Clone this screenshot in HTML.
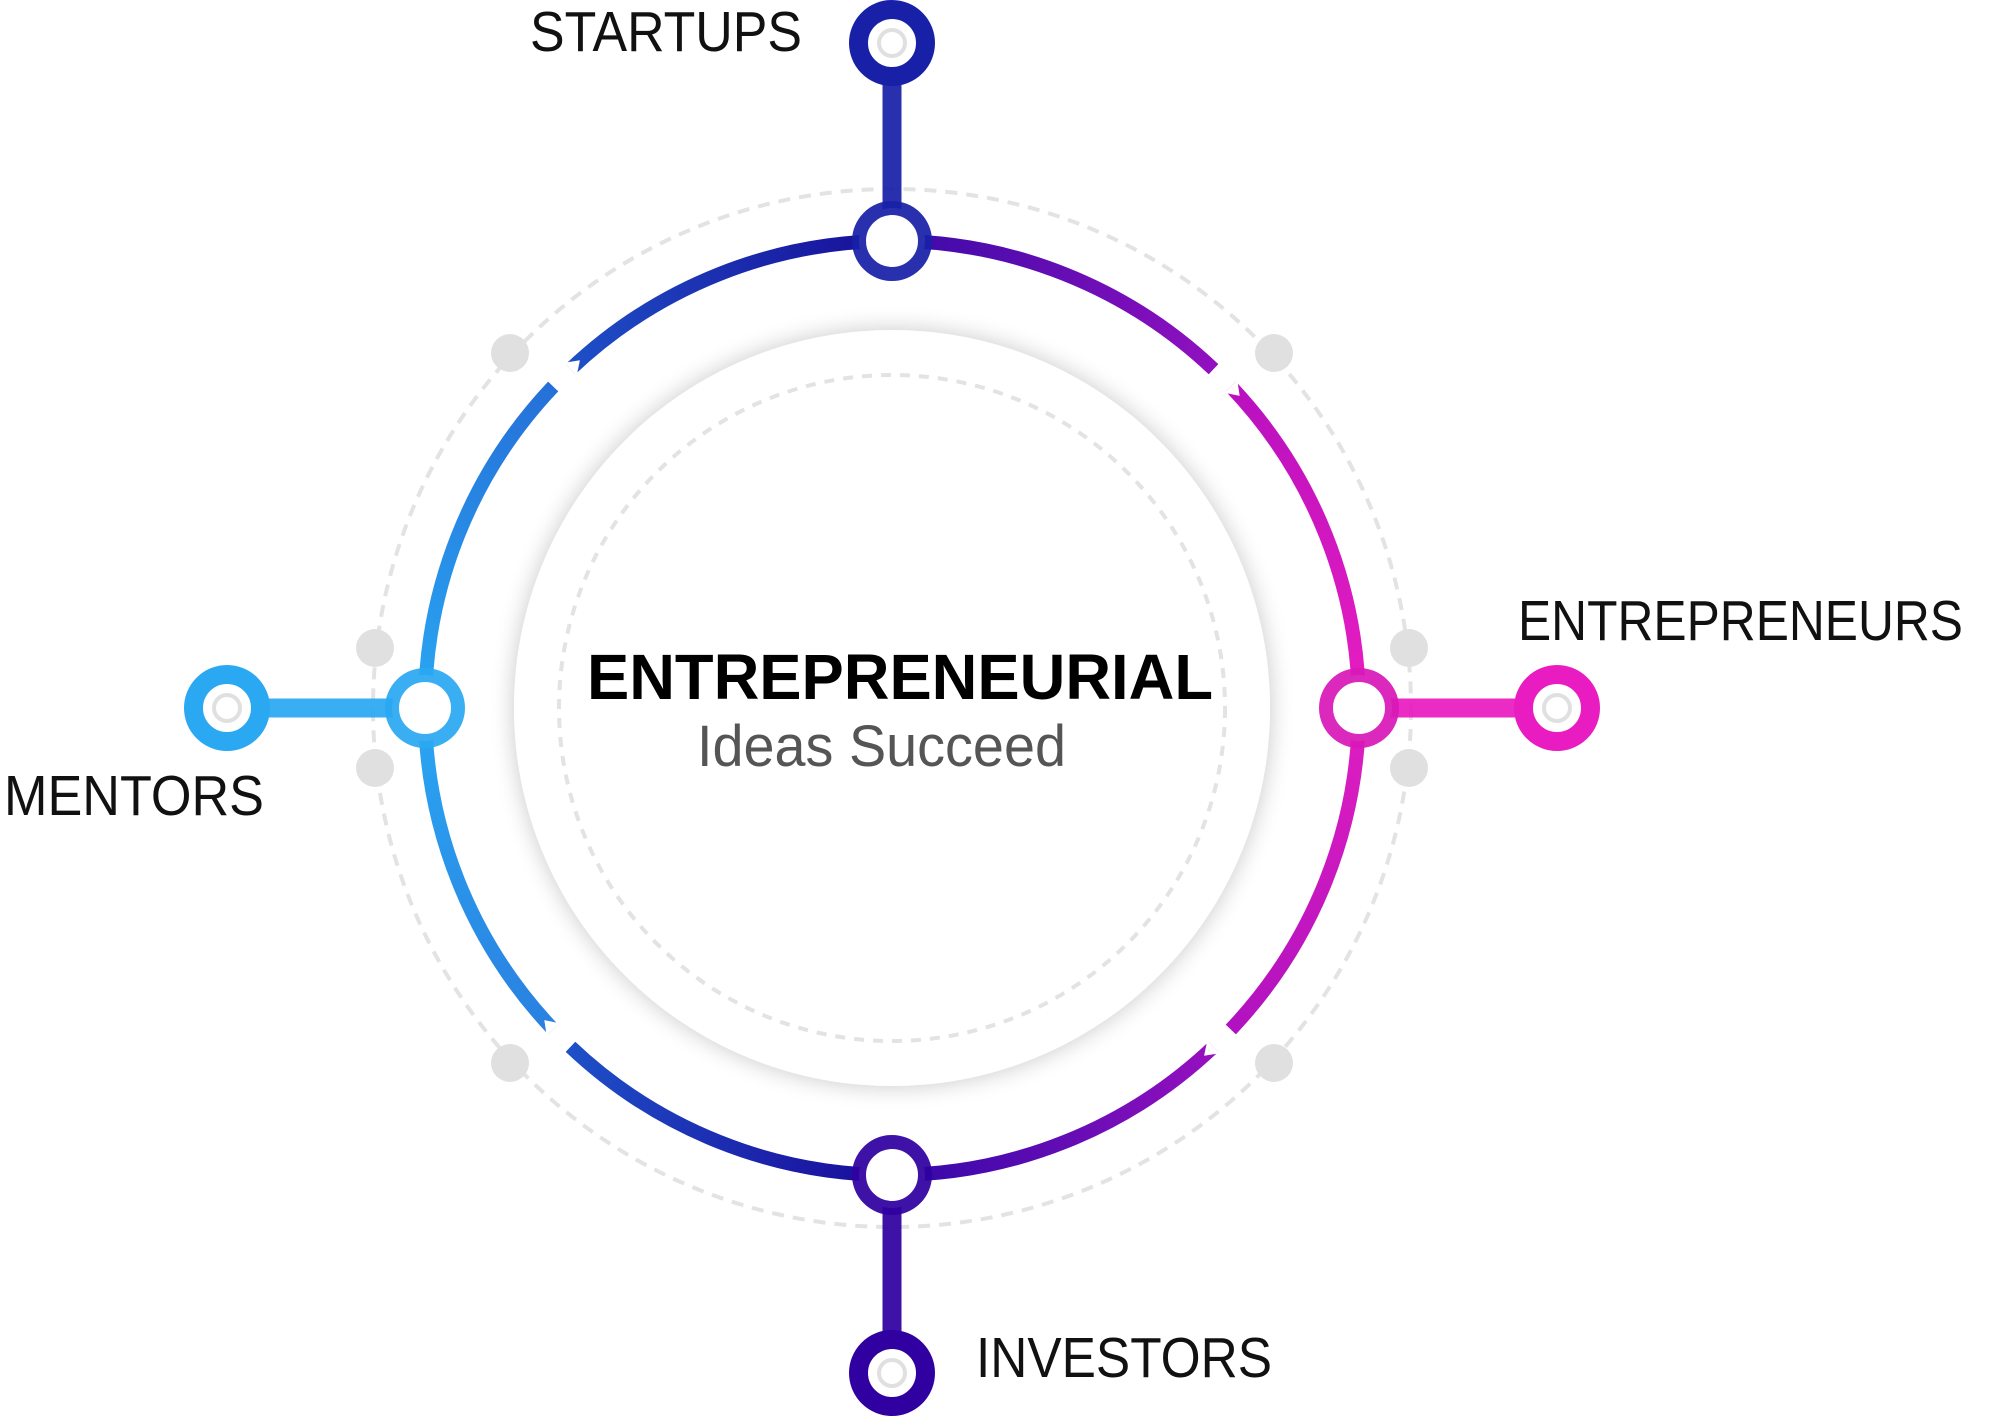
<!DOCTYPE html>
<html><head><meta charset="utf-8"><style>
html,body{margin:0;padding:0;background:#fff;}
svg{display:block;}
text{font-family:"Liberation Sans",sans-serif;}
</style></head><body>
<svg width="2000" height="1420" viewBox="0 0 2000 1420" xmlns="http://www.w3.org/2000/svg">
<defs>
<filter id="sh" x="-20%" y="-20%" width="140%" height="140%">
<feGaussianBlur in="SourceAlpha" stdDeviation="12"/>
<feComponentTransfer><feFuncA type="linear" slope="0.22"/></feComponentTransfer>
<feMerge><feMergeNode/><feMergeNode in="SourceGraphic"/></feMerge>
</filter>
<linearGradient id="g1" gradientUnits="userSpaceOnUse" x1="425" y1="708" x2="553" y2="386"><stop offset="0" stop-color="#2aa6f2"/><stop offset="1" stop-color="#2570d8"/></linearGradient>
<linearGradient id="g2" gradientUnits="userSpaceOnUse" x1="570" y1="369" x2="892" y2="241"><stop offset="0" stop-color="#1e50c8"/><stop offset="1" stop-color="#180e98"/></linearGradient>
<linearGradient id="g3" gradientUnits="userSpaceOnUse" x1="892" y1="241" x2="1213" y2="369"><stop offset="0" stop-color="#3a0aa8"/><stop offset="1" stop-color="#9210c0"/></linearGradient>
<linearGradient id="g4" gradientUnits="userSpaceOnUse" x1="1230" y1="386" x2="1359" y2="708"><stop offset="0" stop-color="#b810c0"/><stop offset="1" stop-color="#e81ec0"/></linearGradient>
<linearGradient id="g5" gradientUnits="userSpaceOnUse" x1="1359" y1="708" x2="1230" y2="1029"><stop offset="0" stop-color="#e01ec0"/><stop offset="1" stop-color="#b012c0"/></linearGradient>
<linearGradient id="g6" gradientUnits="userSpaceOnUse" x1="1213" y1="1047" x2="892" y2="1175"><stop offset="0" stop-color="#9810c0"/><stop offset="1" stop-color="#3008a8"/></linearGradient>
<linearGradient id="g7" gradientUnits="userSpaceOnUse" x1="892" y1="1175" x2="570" y2="1047"><stop offset="0" stop-color="#1a0a9a"/><stop offset="1" stop-color="#1e50c8"/></linearGradient>
<linearGradient id="g8" gradientUnits="userSpaceOnUse" x1="553" y1="1029" x2="425" y2="708"><stop offset="0" stop-color="#2a80e0"/><stop offset="1" stop-color="#2aa6f2"/></linearGradient>
</defs>

<circle cx="892" cy="708" r="519" fill="none" stroke="#e3e3e3" stroke-width="4" stroke-dasharray="12 9"/>
<g fill="#e0e0e0">
<circle cx="510" cy="353" r="19"/><circle cx="1274" cy="353" r="19"/>
<circle cx="375" cy="648" r="19"/><circle cx="1409" cy="648" r="19"/>
<circle cx="375" cy="768" r="19"/><circle cx="1409" cy="768" r="19"/>
<circle cx="510" cy="1063" r="19"/><circle cx="1274" cy="1063" r="19"/>
</g>

<circle cx="892" cy="708" r="378" fill="#fff" filter="url(#sh)"/>
<circle cx="892" cy="708" r="333" fill="none" stroke="#e3e3e3" stroke-width="4" stroke-dasharray="10 9"/>

<g stroke-opacity="0.93">
<line x1="892" y1="43" x2="892" y2="241" stroke="#1820a8" stroke-width="19"/>
<line x1="892" y1="1175" x2="892" y2="1373" stroke="#3000a0" stroke-width="19"/>
<line x1="227" y1="708" x2="425" y2="708" stroke="#2aa8f2" stroke-width="19"/>
<line x1="1359" y1="708" x2="1557" y2="708" stroke="#e81cc0" stroke-width="19"/>
</g>

<g fill="none" stroke-width="14">
<path d="M425 708 A467 467 0 0 1 553.2 386.5" stroke="url(#g1)"/>
<path d="M570.5 369.2 A467 467 0 0 1 892 241" stroke="url(#g2)"/>
<path d="M892 241 A467 467 0 0 1 1213.5 369.2" stroke="url(#g3)"/>
<path d="M1230.8 386.5 A467 467 0 0 1 1359 708" stroke="url(#g4)"/>
<path d="M1359 708 A467 467 0 0 1 1230.8 1029.5" stroke="url(#g5)"/>
<path d="M1213.5 1046.8 A467 467 0 0 1 892 1175" stroke="url(#g6)"/>
<path d="M892 1175 A467 467 0 0 1 570.5 1046.8" stroke="url(#g7)"/>
<path d="M553.2 1029.5 A467 467 0 0 1 425 708" stroke="url(#g8)"/>
</g>
<g fill="#fff">
<polygon points="564.3,362.7 576.7,375.7 579.9,360.2"/>
<polygon points="1237.3,380.3 1224.3,392.7 1239.7,395.9"/>
<polygon points="1219.7,1053.3 1207.3,1040.3 1204.1,1055.7"/>
<polygon points="546.7,1035.7 559.7,1023.3 544.3,1020.1"/>
</g>

<g fill="#fff" stroke-width="14" stroke-opacity="0.93">
<circle cx="892" cy="241" r="33" stroke="#1820a8"/>
<circle cx="892" cy="1175" r="33" stroke="#3000a0"/>
<circle cx="425" cy="708" r="33" stroke="#2aa8f2"/>
<circle cx="1359" cy="708" r="33" stroke="#d818b8"/>
</g>

<g fill="#fff" stroke-width="19">
<circle cx="892" cy="43" r="33.5" stroke="#1820a8"/>
<circle cx="892" cy="1373" r="33.5" stroke="#3000a0"/>
<circle cx="227" cy="708" r="33.5" stroke="#2aa8f2"/>
<circle cx="1557" cy="708" r="33.5" stroke="#e81cc0"/>
</g>
<g fill="none" stroke="#e0e0e0" stroke-width="4">
<circle cx="892" cy="43" r="13"/><circle cx="892" cy="1373" r="13"/>
<circle cx="227" cy="708" r="13"/><circle cx="1557" cy="708" r="13"/>
</g>

<g font-size="57" fill="#111">
<text x="530" y="51" textLength="272" lengthAdjust="spacingAndGlyphs">STARTUPS</text>
<text x="1518" y="640" textLength="445" lengthAdjust="spacingAndGlyphs">ENTREPRENEURS</text>
<text x="4" y="815" textLength="260" lengthAdjust="spacingAndGlyphs">MENTORS</text>
<text x="976" y="1377" textLength="296" lengthAdjust="spacingAndGlyphs">INVESTORS</text>
</g>
<text x="587" y="699" font-size="64" font-weight="bold" fill="#000" textLength="626" lengthAdjust="spacingAndGlyphs">ENTREPRENEURIAL</text>
<text x="697" y="766" font-size="58" fill="#555" textLength="369" lengthAdjust="spacingAndGlyphs">Ideas Succeed</text>
</svg>
</body></html>
